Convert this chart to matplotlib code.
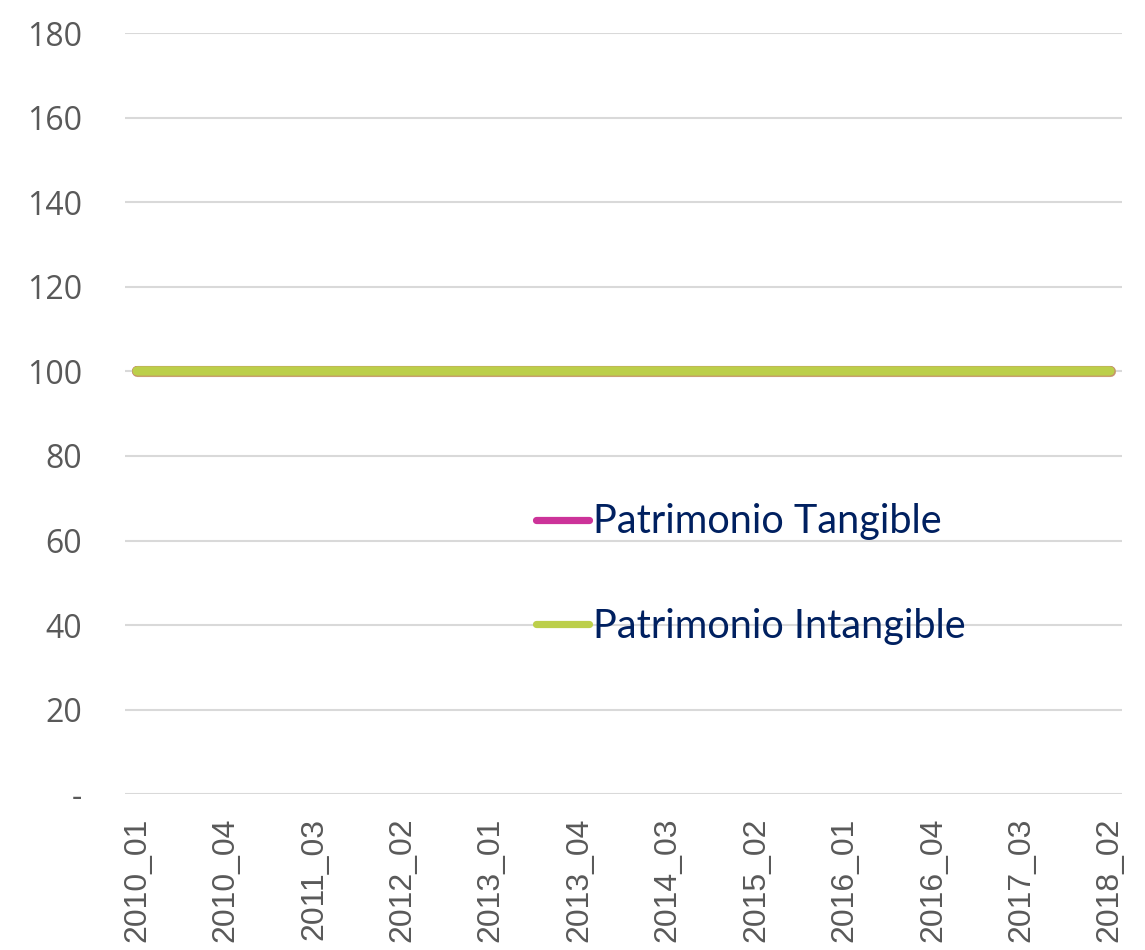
import matplotlib
matplotlib.use("Agg")
import matplotlib.pyplot as plt

# datos: trimestres 2010_01 .. 2018_02
quarters = [f"{y}_{q:02d}" for y in range(2010, 2019) for q in range(1, 5)][:34]
tangible = [100] * 34
intangible = [100] * 34

y_ticks = [0, 20, 40, 60, 80, 100, 120, 140, 160, 180]
y_labels = ["-"] + [str(v) for v in y_ticks[1:]]

fig = plt.figure(figsize=(11.45, 9.5), dpi=100)
ax = fig.add_axes([0.109, 0.164, 0.871, 0.801])

x = list(range(len(quarters)))
ax.plot(x, tangible, color="#c9a070", lw=8.0, solid_capstyle="round", zorder=2)
ax.plot(x, tangible, color="#cc3399", lw=7.2, solid_capstyle="round", zorder=3)
ax.plot(x, intangible, color="#bccf4a", lw=7.0, solid_capstyle="round", zorder=4)

ax.set_ylim(0, 180)
ax.set_xlim(-0.42, len(quarters) - 1 + 0.42)
ax.set_yticks(y_ticks)
ax.set_yticklabels(y_labels)
ax.set_xticks(x[::3])
ax.set_xticklabels(quarters[::3], rotation=90)

for s in ax.spines.values():
    s.set_visible(False)
ax.tick_params(length=0, labelcolor="#595959")
ax.tick_params(axis="y", pad=31, labelsize=23)
ax.tick_params(axis="x", pad=17, labelsize=23)
for lbl in ax.get_yticklabels():
    lbl.set_family(["Open Sans", "DejaVu Sans"])
for lbl in ax.get_xticklabels():
    lbl.set_family(["Liberation Sans", "DejaVu Sans"])

ax.grid(axis="y", color="#d9d9d9", lw=1.5)
ax.set_axisbelow(True)

# leyenda
h1 = plt.Line2D([], [], color="#cc3399", lw=5.2, solid_capstyle="round")
h2 = plt.Line2D([], [], color="#bccf4a", lw=5.2, solid_capstyle="round")
leg = ax.legend([h1, h2], ["Patrimonio Tangible", "Patrimonio Intangible"],
                loc="upper left", bbox_to_anchor=(0.396, 0.403), frameon=False,
                prop={"family": "Lato", "size": 28.5}, handlelength=1.35,
                handletextpad=0.1, labelspacing=1.7, borderaxespad=0)
for t in leg.get_texts():
    t.set_color("#002060")

fig.savefig("out.png", dpi=100)
